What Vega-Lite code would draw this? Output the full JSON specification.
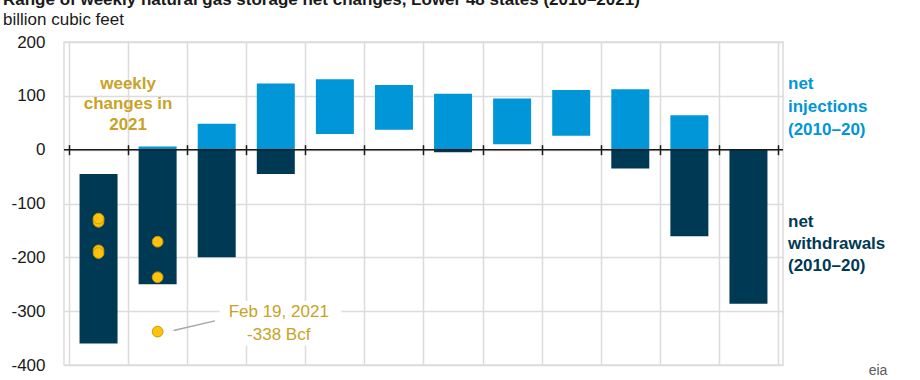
{
  "$schema": "https://vega.github.io/schema/vega-lite/v6.json",
  "autosize": "none",
  "width": 719,
  "height": 323,
  "padding": {"left": 64, "top": 42, "right": 137, "bottom": 15},
  "background": "white",
  "config": {
    "font": "Liberation Sans",
    "view": {"stroke": "#dcdcdc", "strokeWidth": 1.5}
  },
  "title": {
    "text": "Range of weekly natural gas storage net changes, Lower 48 states (2010–2021)",
    "subtitle": "billion cubic feet",
    "anchor": "start",
    "frame": "group",
    "dx": -61,
    "offset": 4,
    "fontSize": 17,
    "fontWeight": "bold",
    "color": "#1a1a1a",
    "subtitleFontSize": 17,
    "subtitleColor": "#1a1a1a",
    "subtitlePadding": 3
  },
  "datasets": {
    "ranges": [
      {"month": "Jan", "m": 1, "type": "net withdrawals", "lo": -360, "hi": -45},
      {"month": "Feb", "m": 2, "type": "net injections", "lo": 0, "hi": 6},
      {"month": "Feb", "m": 2, "type": "net withdrawals", "lo": -250, "hi": 0},
      {"month": "Mar", "m": 3, "type": "net injections", "lo": 0, "hi": 48},
      {"month": "Mar", "m": 3, "type": "net withdrawals", "lo": -200, "hi": 0},
      {"month": "Apr", "m": 4, "type": "net injections", "lo": 0, "hi": 123},
      {"month": "Apr", "m": 4, "type": "net withdrawals", "lo": -45, "hi": 0},
      {"month": "May", "m": 5, "type": "net injections", "lo": 29, "hi": 131},
      {"month": "Jun", "m": 6, "type": "net injections", "lo": 37, "hi": 120},
      {"month": "Jul", "m": 7, "type": "net injections", "lo": 0, "hi": 104},
      {"month": "Jul", "m": 7, "type": "net withdrawals", "lo": -5, "hi": 0},
      {"month": "Aug", "m": 8, "type": "net injections", "lo": 10, "hi": 95},
      {"month": "Sep", "m": 9, "type": "net injections", "lo": 26, "hi": 111},
      {"month": "Oct", "m": 10, "type": "net injections", "lo": 0, "hi": 112},
      {"month": "Oct", "m": 10, "type": "net withdrawals", "lo": -35, "hi": 0},
      {"month": "Nov", "m": 11, "type": "net injections", "lo": 0, "hi": 64},
      {"month": "Nov", "m": 11, "type": "net withdrawals", "lo": -161, "hi": 0},
      {"month": "Dec", "m": 12, "type": "net withdrawals", "lo": -286, "hi": 0}
    ],
    "weeks2021": [
      {"week": "2021-01-01", "m": 1, "value": -130},
      {"week": "2021-01-08", "m": 1, "value": -134},
      {"week": "2021-01-15", "m": 1, "value": -128},
      {"week": "2021-01-22", "m": 1, "value": -187},
      {"week": "2021-01-29", "m": 1, "value": -192},
      {"week": "2021-02-05", "m": 2, "value": -171},
      {"week": "2021-02-12", "m": 2, "value": -237},
      {"week": "2021-02-19", "m": 2, "value": -338}
    ],
    "one": [{}]
  },
  "layer": [
    {
      "data": {"name": "ranges"},
      "mark": {"type": "bar", "width": 38},
      "encoding": {
        "x": {
          "field": "m",
          "type": "quantitative",
          "scale": {"domain": [0.5, 12.5], "nice": false, "zero": false},
          "axis": {
            "values": [0.5, 1.5, 2.5, 3.5, 4.5, 5.5, 6.5, 7.5, 8.5, 9.5, 10.5, 11.5, 12.5],
            "labels": false,
            "domain": false,
            "ticks": true,
            "tickColor": "#1a1a1a",
            "tickWidth": 1.5,
            "tickSize": 10,
            "offset": -220.33,
            "grid": true,
            "gridColor": "#dcdcdc",
            "gridWidth": 1.5,
            "title": null
          }
        },
        "y": {
          "field": "lo",
          "type": "quantitative",
          "scale": {"domain": [-400, 200], "nice": false},
          "axis": {
            "values": [-400, -300, -200, -100, 0, 100, 200],
            "labelExpr": "'' + datum.value",
            "domain": false,
            "ticks": false,
            "labelFontSize": 17,
            "labelColor": "#1a1a1a",
            "labelPadding": 19,
            "gridColor": "#dcdcdc",
            "gridWidth": 1.5,
            "title": null
          }
        },
        "y2": {"field": "hi"},
        "color": {
          "field": "type",
          "type": "nominal",
          "scale": {"domain": ["net injections", "net withdrawals"], "range": ["#0096D7", "#003953"]},
          "legend": null
        }
      }
    },
    {
      "data": {"name": "one"},
      "mark": {"type": "rect", "fill": "white"},
      "encoding": {
        "x": {"datum": 3.05},
        "x2": {"datum": 5.11},
        "y": {"datum": -281},
        "y2": {"datum": -364}
      }
    },
    {
      "data": {"name": "one"},
      "mark": {"type": "rule", "color": "#1a1a1a", "strokeWidth": 1.5},
      "encoding": {"y": {"datum": 0}}
    },
    {
      "data": {"name": "one"},
      "mark": {"type": "rule", "color": "#a6a6a6", "strokeWidth": 1.5},
      "encoding": {
        "x": {"datum": 2.27},
        "x2": {"datum": 2.97},
        "y": {"datum": -336},
        "y2": {"datum": -318}
      }
    },
    {
      "data": {"name": "weeks2021"},
      "mark": {"type": "point", "filled": true, "size": 115, "fill": "#FFC20E", "stroke": "#C99A00", "strokeWidth": 1, "opacity": 1},
      "encoding": {
        "x": {"field": "m", "type": "quantitative"},
        "y": {"field": "value", "type": "quantitative"}
      }
    },
    {
      "data": {"name": "one"},
      "mark": {"type": "text", "text": ["weekly", "changes in", "2021"], "fontSize": 17, "fontWeight": "bold", "color": "#C9A227", "align": "center", "baseline": "middle", "lineHeight": 20.5},
      "encoding": {"x": {"datum": 1.5}, "y": {"datum": 122}}
    },
    {
      "data": {"name": "one"},
      "mark": {"type": "text", "text": ["Feb 19, 2021", "-338 Bcf"], "fontSize": 17, "color": "#C9A227", "align": "center", "baseline": "middle", "lineHeight": 22.5},
      "encoding": {"x": {"datum": 4.05}, "y": {"datum": -302}}
    },
    {
      "data": {"name": "one"},
      "mark": {"type": "text", "text": ["net", "injections", "(2010–20)"], "fontSize": 17, "fontWeight": "bold", "color": "#0096D7", "align": "left", "baseline": "middle", "lineHeight": 23, "dx": 10},
      "encoding": {"x": {"datum": 12.5}, "y": {"datum": 122}}
    },
    {
      "data": {"name": "one"},
      "mark": {"type": "text", "text": ["net", "withdrawals", "(2010–20)"], "fontSize": 17, "fontWeight": "bold", "color": "#003953", "align": "left", "baseline": "middle", "lineHeight": 22, "dx": 10},
      "encoding": {"x": {"datum": 12.5}, "y": {"datum": -135}}
    },
    {
      "data": {"name": "one"},
      "mark": {"type": "text", "text": "eia", "fontSize": 14, "color": "#5a5a5a", "align": "center", "baseline": "top", "dx": 100, "dy": -1},
      "encoding": {"x": {"datum": 12.5}, "y": {"datum": -400}}
    }
  ]
}
